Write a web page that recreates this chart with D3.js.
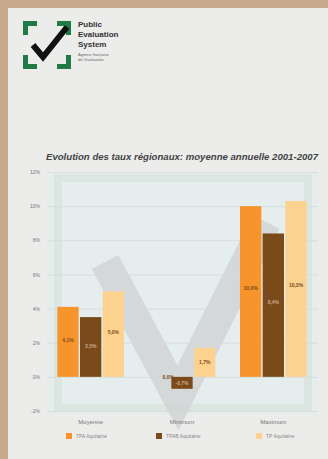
<!DOCTYPE html>
<html>
<head>
<meta charset="utf-8">
<script src="https://cdn.jsdelivr.net/npm/d3@7.9.0/dist/d3.min.js"></script>
<style>
  body { margin: 0; background: #c9a98c; }
  svg { display: block; font-family: 'Liberation Sans', Arial, sans-serif; }
</style>
</head>
<body>
<svg id="chart"></svg>
<script>
const categories = ['Moyenne', 'Minimum', 'Maximum'];
const seriesNames = ['TPA Aquitaine', 'TPAB Aquitaine', 'TP Aquitaine'];
const seriesKeys = ['TPA', 'TPAB', 'TP'];
const tpaValues = [4.1, 0.0, 10.0];
const tpabValues = [3.5, -0.7, 8.4];
const tpValues = [5.0, 1.7, 10.3];
const yTicks = [-2, 0, 2, 4, 6, 8, 10, 12];
const colors = ['#f7952c', '#7b4a1b', '#fdd28e'];

const W = 328, H = 459;
const svg = d3.select('#chart').attr('width', W).attr('height', H);

// page
svg.append('rect').attr('x', 8).attr('y', 8).attr('width', W - 8).attr('height', H - 8)
  .attr('fill', '#ececeb');

// --- logo ---
const logo = svg.append('g').attr('transform', 'translate(23,21)');
const green = '#1f7a45';
logo.append('path')
  .attr('d', 'M0,0 H14 V5 H5 V14 H0 Z M48,0 H34 V5 H43 V14 H48 Z M0,48 H14 V43 H5 V34 H0 Z M48,48 H34 V43 H43 V34 H48 Z')
  .attr('fill', green);
logo.append('path')
  .attr('d', 'M10,24 L20,36 L44,6')
  .attr('fill', 'none').attr('stroke', '#111').attr('stroke-width', 6)
  .attr('stroke-linejoin', 'miter');
const logoText = ['Public', 'Evaluation', 'System'];
logo.selectAll('text.big').data(logoText).join('text')
  .attr('x', 55).attr('y', (d, i) => 6 + i * 10)
  .attr('font-size', 8).attr('font-weight', 'bold').attr('fill', '#333')
  .text(d => d);
logo.selectAll('text.small').data(['Agence française', 'de l’évaluation']).join('text')
  .attr('x', 55).attr('y', (d, i) => 35 + i * 5)
  .attr('font-size', 4).attr('fill', '#666')
  .text(d => d);

// --- chart ---
const plot = { left: 47, right: 318, top: 172, bottom: 415 };

svg.append('text').attr('x', 182).attr('y', 160).attr('text-anchor', 'middle')
  .attr('font-size', 8.6).attr('font-style', 'italic').attr('font-weight', 'bold').attr('fill', '#444')
  .attr('textLength', 272).attr('lengthAdjust', 'spacingAndGlyphs')
  .text('Evolution des taux régionaux: moyenne annuelle 2001-2007');

svg.append('rect').attr('x', plot.left).attr('y', plot.top)
  .attr('width', plot.right - plot.left).attr('height', plot.bottom - plot.top)
  .attr('fill', '#e6eded');

const y = d3.scaleLinear().domain([-2, 12]).range([411, 172]);
const x0 = d3.scaleBand().domain(categories).range([45, 319]).paddingInner(0.24).paddingOuter(0.12);
const x1 = d3.scaleBand().domain(seriesKeys).range([0, x0.bandwidth()]).padding(0.06);

// faint frame + watermark check
svg.append('rect').attr('x', 58).attr('y', 178).attr('width', 250).attr('height', 230)
  .attr('fill', 'none').attr('stroke', '#dbe6e1').attr('stroke-width', 8);
svg.append('path').attr('d', 'M105,262 L178,398 L266,222')
  .attr('fill', 'none').attr('stroke', '#cfd2d3').attr('stroke-width', 30).attr('opacity', 0.8);

// gridlines
svg.append('g').attr('transform', `translate(${plot.left},0)`)
  .call(d3.axisLeft(y).tickValues(yTicks).tickSize(-(plot.right - plot.left)).tickFormat(''))
  .call(g => g.select('.domain').remove())
  .call(g => g.selectAll('line').attr('stroke', '#d0dcdc').attr('stroke-width', 0.8));

// y labels
svg.append('g').attr('transform', `translate(${plot.left - 4},0)`)
  .call(d3.axisLeft(y).tickValues(yTicks).tickSize(0).tickFormat(d => d + '%'))
  .call(g => g.select('.domain').remove())
  .call(g => g.selectAll('text').attr('font-size', 5).attr('fill', '#777'));

// bars
const rows = categories.map((c, i) => ({
  cat: c,
  vals: [tpaValues[i], tpabValues[i], tpValues[i]].map((v, j) => ({ key: seriesKeys[j], v, j }))
}));
const fmt = v => (v < 0 ? '-' : '') + Math.abs(v).toFixed(1).replace('.', ',') + '%';

const groups = svg.append('g').selectAll('g').data(rows).join('g')
  .attr('transform', d => `translate(${x0(d.cat)},0)`);
groups.selectAll('rect').data(d => d.vals).join('rect')
  .attr('x', d => x1(d.key)).attr('width', x1.bandwidth())
  .attr('y', d => y(Math.max(0, d.v)))
  .attr('height', d => Math.abs(y(d.v) - y(0)))
  .attr('fill', d => colors[d.j]);
groups.selectAll('text').data(d => d.vals).join('text')
  .attr('x', d => x1(d.key) + x1.bandwidth() / 2)
  .attr('y', d => {
    if (d.v === 0) return y(0) + 2;
    if (d.v < 0) return y(d.v / 2) + 2;
    return y(0) - (y(0) - y(d.v)) * 0.52 + 2;
  })
  .attr('dx', d => d.v === 0 ? 9 : 0)
  .attr('text-anchor', 'middle').attr('font-size', 5).attr('font-weight', 'bold')
  .attr('fill', d => d.j === 1 ? '#c9a98a' : '#7a4a1b')
  .text(d => fmt(d.v));

// x labels
svg.append('g').attr('transform', `translate(0,${plot.bottom + 2})`)
  .call(d3.axisBottom(x0).tickSize(0))
  .call(g => g.select('.domain').remove())
  .call(g => g.selectAll('text').attr('font-size', 6).attr('fill', '#777'));

// legend
const legend = svg.append('g').selectAll('g').data(seriesNames).join('g')
  .attr('transform', (d, i) => `translate(${[66, 156, 256][i]},433)`);
legend.append('rect').attr('width', 6).attr('height', 6).attr('fill', (d, i) => colors[i]);
legend.append('text').attr('x', 10).attr('y', 5).attr('font-size', 5).attr('fill', '#888')
  .text(d => d);
</script>
</body>
</html>
